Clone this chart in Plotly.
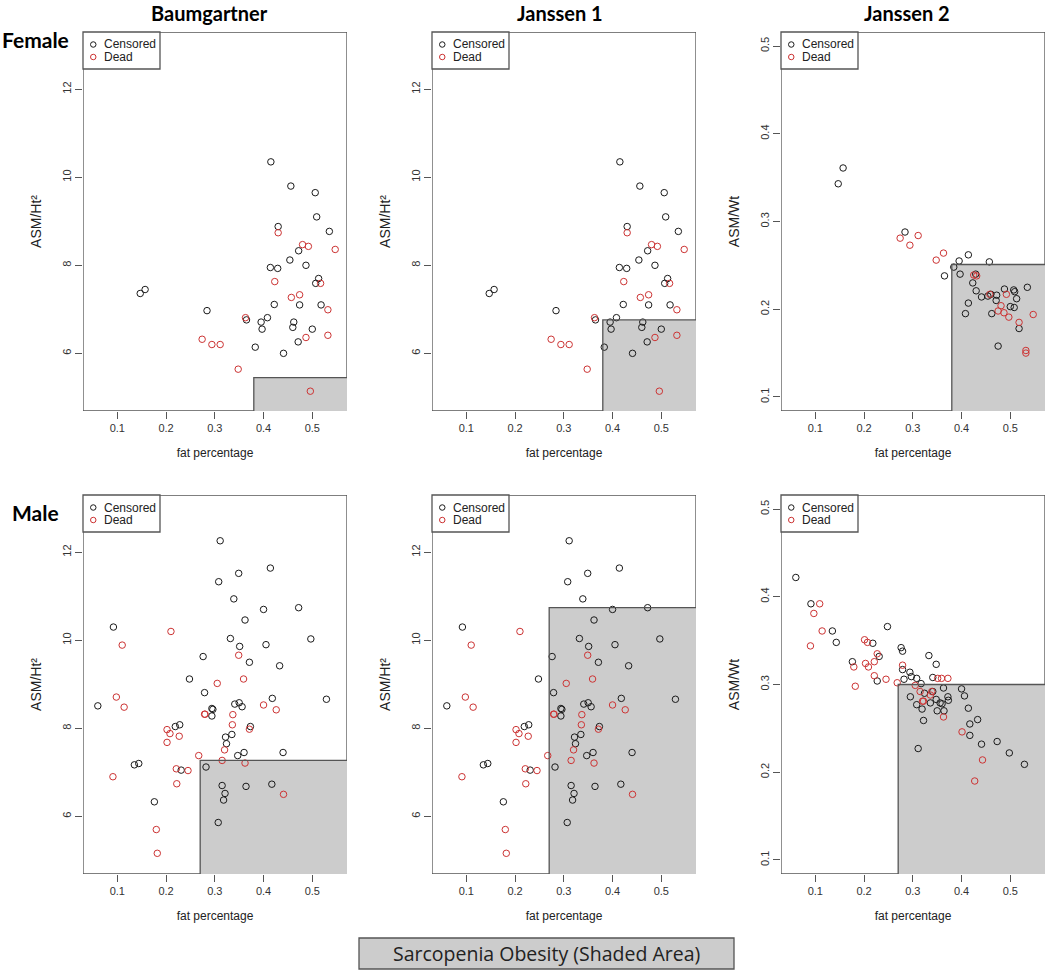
import plotly.graph_objects as go

W, H = 1050, 970

# ---------------- data ----------------
# Female: fat percentage vs ASM/Ht^2 (Baumgartner and Janssen 1 use the same values)
f_cens_fat = [0.147, 0.157, 0.284, 0.365, 0.383, 0.395, 0.397, 0.408, 0.415, 0.414,
              0.429, 0.422, 0.430, 0.441, 0.454, 0.456, 0.462, 0.460, 0.471, 0.472,
              0.474, 0.487, 0.500, 0.506, 0.509, 0.513, 0.507, 0.518, 0.535]
f_cens_ht = [7.36, 7.45, 6.97, 6.76, 6.14, 6.71, 6.55, 6.81, 10.35, 7.95,
             7.93, 7.11, 8.88, 6.00, 8.12, 9.80, 6.71, 6.59, 6.26, 8.33,
             7.10, 8.00, 6.55, 9.65, 9.10, 7.70, 7.59, 7.10, 8.77]
f_dead_fat = [0.274, 0.294, 0.311, 0.348, 0.363, 0.423, 0.430, 0.457, 0.474, 0.480,
              0.492, 0.487, 0.496, 0.517, 0.532, 0.532, 0.547]
f_dead_ht = [6.32, 6.20, 6.20, 5.64, 6.81, 7.63, 8.74, 7.27, 7.33, 8.47,
             8.43, 6.36, 5.14, 7.59, 6.99, 6.41, 8.36]

# Female: fat percentage vs ASM/Wt (Janssen 2)
f_cens_fat_wt = [0.147, 0.157, 0.284, 0.365, 0.384, 0.395, 0.397, 0.408, 0.414, 0.414,
                 0.423, 0.429, 0.430, 0.441, 0.454, 0.457, 0.460, 0.462, 0.471, 0.472,
                 0.475, 0.488, 0.500, 0.507, 0.509, 0.508, 0.513, 0.518, 0.535]
f_cens_wt = [0.343, 0.361, 0.288, 0.238, 0.248, 0.255, 0.240, 0.195, 0.262, 0.207,
             0.230, 0.240, 0.221, 0.214, 0.215, 0.254, 0.217, 0.195, 0.210, 0.216,
             0.158, 0.223, 0.203, 0.222, 0.220, 0.202, 0.212, 0.178, 0.225]
f_dead_fat_wt = [0.274, 0.294, 0.311, 0.348, 0.363, 0.425, 0.431, 0.458, 0.481, 0.475,
                 0.487, 0.492, 0.497, 0.518, 0.547, 0.532, 0.532]
f_dead_wt = [0.281, 0.273, 0.284, 0.256, 0.264, 0.239, 0.238, 0.217, 0.204, 0.198,
             0.196, 0.217, 0.191, 0.185, 0.194, 0.153, 0.150]

# Male: fat percentage vs ASM/Ht^2 (Baumgartner and Janssen 1)
m_cens_fat = [0.060, 0.092, 0.135, 0.144, 0.176, 0.219, 0.228, 0.231, 0.248, 0.276,
              0.279, 0.282, 0.294, 0.294, 0.296, 0.307, 0.308, 0.311, 0.315, 0.321,
              0.318, 0.322, 0.324, 0.332, 0.335, 0.339, 0.341, 0.347, 0.349, 0.350,
              0.351, 0.356, 0.360, 0.362, 0.364, 0.371, 0.373, 0.400, 0.405, 0.414,
              0.417, 0.418, 0.433, 0.440, 0.472, 0.497, 0.529]
m_cens_ht = [8.51, 10.30, 7.17, 7.20, 6.33, 8.04, 8.08, 7.05, 9.12, 9.63,
             8.81, 7.12, 8.28, 8.45, 8.43, 5.86, 11.33, 12.26, 6.70, 6.52,
             6.37, 7.80, 7.65, 10.04, 7.86, 10.94, 8.55, 7.38, 11.52, 8.58,
             9.86, 8.49, 7.45, 10.46, 6.68, 9.50, 8.04, 10.70, 9.90, 11.64,
             6.73, 8.68, 9.42, 7.45, 10.74, 10.03, 8.66]
m_dead_fat = [0.091, 0.098, 0.110, 0.114, 0.180, 0.182, 0.202, 0.202, 0.208, 0.210,
              0.227, 0.221, 0.222, 0.245, 0.267, 0.279, 0.280, 0.305, 0.315, 0.320,
              0.337, 0.336, 0.349, 0.359, 0.362, 0.371, 0.400, 0.426, 0.441]
m_dead_ht = [6.90, 8.71, 9.89, 8.48, 5.70, 5.16, 7.97, 7.68, 7.88, 10.20,
             7.82, 7.08, 6.74, 7.04, 7.38, 8.32, 8.32, 9.02, 7.27, 7.51,
             8.31, 8.08, 9.66, 9.12, 7.21, 7.98, 8.53, 8.42, 6.50]

# Male: fat percentage vs ASM/Wt (Janssen 2)
m_cens_fat_wt = [0.060, 0.091, 0.135, 0.143, 0.176, 0.218, 0.231, 0.227, 0.248, 0.276,
                 0.279, 0.279, 0.282, 0.294, 0.295, 0.297, 0.308, 0.308, 0.311, 0.317,
                 0.319, 0.322, 0.324, 0.333, 0.336, 0.341, 0.341, 0.348, 0.348, 0.350,
                 0.356, 0.360, 0.363, 0.364, 0.372, 0.373, 0.400, 0.406, 0.414, 0.417,
                 0.417, 0.433, 0.441, 0.473, 0.498, 0.529]
m_cens_wt = [0.422, 0.392, 0.361, 0.348, 0.326, 0.347, 0.332, 0.304, 0.366, 0.342,
             0.338, 0.317, 0.306, 0.314, 0.286, 0.309, 0.307, 0.277, 0.227, 0.301,
             0.272, 0.259, 0.290, 0.333, 0.279, 0.292, 0.308, 0.283, 0.323, 0.270,
             0.279, 0.278, 0.296, 0.270, 0.286, 0.282, 0.295, 0.287, 0.273, 0.255,
             0.242, 0.260, 0.232, 0.235, 0.222, 0.209]
m_dead_fat_wt = [0.090, 0.097, 0.109, 0.114, 0.179, 0.182, 0.201, 0.203, 0.207, 0.209,
                 0.221, 0.221, 0.227, 0.245, 0.268, 0.279, 0.305, 0.315, 0.320, 0.322,
                 0.336, 0.339, 0.351, 0.359, 0.372, 0.363, 0.401, 0.427, 0.443]
m_dead_wt = [0.344, 0.381, 0.392, 0.361, 0.320, 0.298, 0.351, 0.324, 0.348, 0.320,
             0.326, 0.310, 0.335, 0.306, 0.302, 0.322, 0.299, 0.292, 0.281, 0.281,
             0.288, 0.292, 0.307, 0.307, 0.307, 0.263, 0.246, 0.190, 0.214]

col_titles = ["Baumgartner", "Janssen 1", "Janssen 2"]
row_titles = ["Female", "Male"]
y_titles = ["ASM/Ht²", "ASM/Ht²", "ASM/Wt"]
x_title = "fat percentage"
legend_names = ["Censored", "Dead"]
bottom_legend_text = "Sarcopenia Obesity (Shaded Area)"

# sarcopenic-obesity cut-offs (fat percentage, muscle index) per row/column
fat_cut = [0.38, 0.27]
muscle_cut = [[5.45, 6.76, 0.251], [7.27, 10.74, 0.300]]

x_ticks = [0.1, 0.2, 0.3, 0.4, 0.5]
ht_ticks = [6, 8, 10, 12]
wt_ticks = [0.1, 0.2, 0.3, 0.4, 0.5]

# ---------------- styling / layout ----------------
C_CENS = "#1a1a1a"
C_DEAD = "#cc3333"
FRAME = "#555555"
SHADE = "#cccccc"
AX_FONT = "Liberation Sans, Arial, sans-serif"
HEAD_FONT = "Lato, 'Open Sans', sans-serif"
BOX_FONT = "'Open Sans', Lato, sans-serif"

col_left = [83, 432, 781]
panel_w = 264
row_top = [32, 495]
panel_h = 379

x_range = [0.0296, 0.5712]
ht_range = [4.69, 13.30]
wt_range = [0.084, 0.516]


def px(p):
    return p / W


def py(p):
    return 1 - p / H


data_by_row = [
    [(f_cens_fat, f_cens_ht, f_dead_fat, f_dead_ht),
     (f_cens_fat, f_cens_ht, f_dead_fat, f_dead_ht),
     (f_cens_fat_wt, f_cens_wt, f_dead_fat_wt, f_dead_wt)],
    [(m_cens_fat, m_cens_ht, m_dead_fat, m_dead_ht),
     (m_cens_fat, m_cens_ht, m_dead_fat, m_dead_ht),
     (m_cens_fat_wt, m_cens_wt, m_dead_fat_wt, m_dead_wt)],
]

fig = go.Figure()
layout = {}
shapes = []
annotations = []

for r in range(2):
    for c in range(3):
        k = r * 3 + c + 1
        sfx = "" if k == 1 else str(k)
        xa, ya = "x" + sfx, "y" + sfx
        yr = wt_range if c == 2 else ht_range
        yt = wt_ticks if c == 2 else ht_ticks
        x0p, x1p = col_left[c], col_left[c] + panel_w
        y0p, y1p = row_top[r], row_top[r] + panel_h

        layout["xaxis" + sfx] = dict(
            domain=[px(x0p), px(x1p)], range=x_range, anchor=ya,
            tickvals=x_ticks, ticktext=[f"{v:.1f}" for v in x_ticks],
            ticks="outside", ticklen=7, tickwidth=1, tickcolor=FRAME,
            showline=False, showgrid=False, zeroline=False,
            tickfont=dict(family=AX_FONT, size=11, color="#333333"),
            title=dict(text=x_title, font=dict(family=AX_FONT, size=12, color="#222222"), standoff=15),
            fixedrange=True,
        )
        layout["yaxis" + sfx] = dict(
            domain=[py(y1p), py(y0p)], range=yr, anchor=xa,
            tickvals=yt, ticktext=[(f"{v:.1f}" if c == 2 else str(v)) for v in yt],
            tickangle=-90,
            ticks="outside", ticklen=7, tickwidth=1, tickcolor=FRAME,
            showline=False, showgrid=False, zeroline=False,
            tickfont=dict(family=AX_FONT, size=11, color="#333333"),
            title=dict(text=y_titles[c], font=dict(family=AX_FONT, size=14, color="#222222"), standoff=15),
            fixedrange=True,
        )

        # shaded sarcopenic-obesity region
        fc, mc = fat_cut[r], muscle_cut[r][c]
        shapes.append(dict(type="rect", xref=xa, yref=ya, x0=fc, x1=x_range[1],
                           y0=yr[0], y1=mc, fillcolor=SHADE, line=dict(width=0), layer="below"))
        # outline of the non-shaded area (frame)
        path = (f"M {x_range[0]},{yr[0]} L {x_range[0]},{yr[1]} L {x_range[1]},{yr[1]} "
                f"L {x_range[1]},{mc} L {fc},{mc} L {fc},{yr[0]} Z")
        shapes.append(dict(type="path", xref=xa, yref=ya, path=path,
                           line=dict(color=FRAME, width=1.3), layer="above"))

        cx, cy, dx, dy = data_by_row[r][c]
        fig.add_trace(go.Scatter(x=cx, y=cy, mode="markers", name=legend_names[0],
                                 xaxis=xa, yaxis=ya, showlegend=False,
                                 marker=dict(symbol="circle-open", size=6.5, color=C_CENS,
                                             line=dict(width=1))))
        fig.add_trace(go.Scatter(x=dx, y=dy, mode="markers", name=legend_names[1],
                                 xaxis=xa, yaxis=ya, showlegend=False,
                                 marker=dict(symbol="circle-open", size=6.5, color=C_DEAD,
                                             line=dict(width=1))))

        # in-panel legend box
        shapes.append(dict(type="rect", xref="paper", yref="paper",
                           x0=px(x0p), x1=px(x0p + 77), y0=py(y0p + 37), y1=py(y0p),
                           fillcolor="white", line=dict(color=FRAME, width=1.3), layer="above"))
        for i, (name, col) in enumerate(zip(legend_names, [C_CENS, C_DEAD])):
            cyp = y0p + 12.5 + 12.5 * i
            shapes.append(dict(type="circle", xref="paper", yref="paper",
                               x0=px(x0p + 7.5), x1=px(x0p + 13),
                               y0=py(cyp + 2.75), y1=py(cyp - 2.75),
                               line=dict(color=col, width=1), layer="above"))
            annotations.append(dict(text=name, xref="paper", yref="paper",
                                    x=px(x0p + 19), y=py(cyp), xanchor="left", yanchor="middle",
                                    showarrow=False,
                                    font=dict(family=AX_FONT, size=12, color="#222222")))

# column titles
col_centers = [209, 560, 907]
for c, t in enumerate(col_titles):
    annotations.append(dict(text=f"<b>{t}</b>", xref="paper", yref="paper",
                            x=px(col_centers[c]), y=1, xanchor="center", yanchor="top",
                            borderpad=0, showarrow=False,
                            font=dict(family=HEAD_FONT, size=20, color="#000000")))
# row titles
row_pos = [(0, 40), (10, 512)]
for r, t in enumerate(row_titles):
    annotations.append(dict(text=f"<b>{t}</b>", xref="paper", yref="paper",
                            x=px(row_pos[r][0]), y=py(row_pos[r][1]), xanchor="left", yanchor="middle",
                            showarrow=False, font=dict(family=HEAD_FONT, size=21, color="#000000")))

# bottom legend box
shapes.append(dict(type="rect", xref="paper", yref="paper",
                   x0=px(359), x1=px(734), y0=py(969), y1=py(938),
                   fillcolor=SHADE, line=dict(color=FRAME, width=1.3)))
annotations.append(dict(text=bottom_legend_text, xref="paper", yref="paper",
                        x=px(546.5), y=py(953.5), xanchor="center", yanchor="middle",
                        showarrow=False, font=dict(family=BOX_FONT, size=19.5, color="#222222")))

fig.update_layout(
    width=W, height=H,
    margin=dict(l=0, r=0, t=0, b=0),
    paper_bgcolor="white", plot_bgcolor="white",
    showlegend=False,
    shapes=shapes, annotations=annotations,
    **layout,
)

fig.write_html("out.html", config={"displayModeBar": False},
               post_script="document.body.style.margin='0';document.body.style.overflow='hidden';")
